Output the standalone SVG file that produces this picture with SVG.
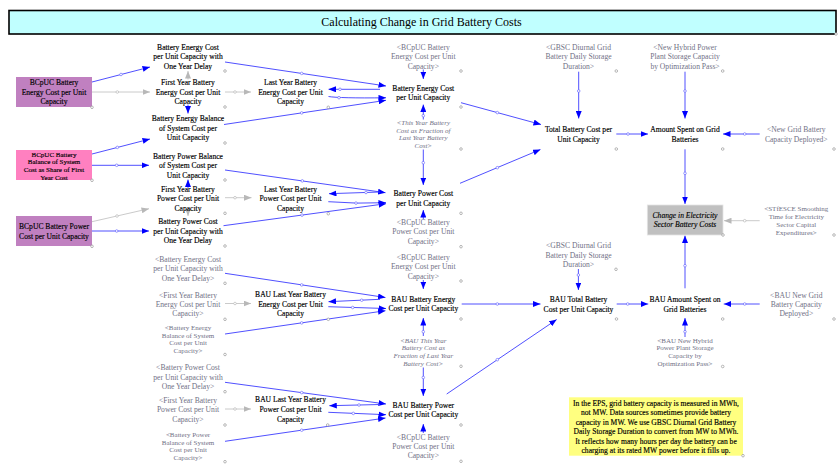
<svg xmlns="http://www.w3.org/2000/svg" width="838" height="469" viewBox="0 0 838 469">
<style>
text{font-family:"Liberation Serif","Times New Roman",serif;font-size:7.6px;text-anchor:middle}
.v{fill:#000;stroke:#000;stroke-width:0.15}
.g{fill:#707085}
.gi{fill:#707085;font-style:italic}
.vi{fill:#000;font-style:italic;stroke:#000;stroke-width:0.12}
.s{font-size:7px}
.bl{stroke:#3c3cff;stroke-width:0.9;fill:none}
.gr{stroke:#c4c4c4;stroke-width:0.9;fill:none}
.hb{fill:#fff;stroke:#5a5aff;stroke-width:0.6}
.hg{fill:#fff;stroke:#b0b0b0;stroke-width:0.6}
.c{fill:#fff;stroke:#8a8a8a;stroke-width:0.6}
</style>
<defs>
<marker id="ab" viewBox="0 0 10 8" refX="10" refY="4" markerWidth="7.5" markerHeight="6" markerUnits="userSpaceOnUse" orient="auto"><path d="M0,0 L10,4 L0,8 z" fill="#0000ff"/></marker>
<marker id="ag" viewBox="0 0 10 8" refX="10" refY="4" markerWidth="7.5" markerHeight="6" markerUnits="userSpaceOnUse" orient="auto"><path d="M0,0 L10,4 L0,8 z" fill="#b8b8b8"/></marker>
</defs>
<rect width="838" height="469" fill="#fff"/>

<g id="title">
<rect x="9" y="10.5" width="827" height="23.5" fill="#c0ffff" stroke="#000" stroke-width="1.6"/>
<text x="421.5" y="26.2" style="font-size:12px;fill:#000">Calculating Change in Grid Battery Costs</text>
<circle class="c" cx="836" cy="34" r="1.3"/>
</g>

<g id="connectors">
<path class="bl" d="M92,82 L150,67" marker-end="url(#ab)"/><circle class="hb" cx="121" cy="74.5" r="1.3"/>
<path class="gr" d="M92,92 L150,92" marker-end="url(#ag)"/><circle class="hg" cx="117.3" cy="92" r="1.3"/>
<path class="bl" d="M92,154 L150,139" marker-end="url(#ab)"/><circle class="hb" cx="117.3" cy="147.4" r="1.3"/>
<path class="bl" d="M92,165.3 L149,165.3" marker-end="url(#ab)"/><circle class="hb" cx="116.7" cy="165.3" r="1.3"/>
<path class="gr" d="M92,221.7 L149,208.7" marker-end="url(#ag)"/><circle class="hg" cx="117" cy="216" r="1.3"/>
<path class="bl" d="M92,231 L149,231" marker-end="url(#ab)"/><circle class="hb" cx="116.7" cy="231" r="1.3"/>
<path class="gr" d="M188,79.5 L188,71" marker-end="url(#ag)"/>
<path class="bl" d="M188,104.5 L188,113.5" marker-end="url(#ab)"/>
<path class="bl" d="M188,188 L188,179.5" marker-end="url(#ab)"/>
<path class="gr" d="M188,208.5 L188,216" marker-end="url(#ag)"/>
<path class="gr" d="M225,92 L251,92" marker-end="url(#ag)"/><circle class="hg" cx="235" cy="92" r="1.3"/>
<path class="gr" d="M225,197.7 L251.5,197.7" marker-end="url(#ag)"/><circle class="hg" cx="235" cy="197.7" r="1.3"/>
<path class="bl" d="M225,62 L386,86" marker-end="url(#ab)"/><circle class="hb" cx="301.7" cy="73.4" r="1.3"/>
<path class="bl" d="M380,89.3 L328.5,89.3" marker-end="url(#ab)"/><circle class="hb" cx="340" cy="89.3" r="1.3"/>
<path class="bl" d="M328.5,96.5 Q339,98.3 386,97.8" marker-end="url(#ab)"/><circle class="hb" cx="339" cy="97.7" r="1.3"/>
<path class="bl" d="M224,124.5 L386,100.3" marker-end="url(#ab)"/><circle class="hb" cx="301.7" cy="112.9" r="1.3"/>
<path class="bl" d="M423.3,69.5 L423.3,79" marker-end="url(#ab)"/>
<path class="bl" d="M423.3,119.5 L423.3,104.5" marker-end="url(#ab)"/><circle class="hb" cx="423.3" cy="115.7" r="1.3"/>
<path class="bl" d="M423.3,149.5 L423.3,185" marker-end="url(#ab)"/><circle class="hb" cx="423.3" cy="162.7" r="1.3"/>
<path class="bl" d="M461,102.7 L541,124.5" marker-end="url(#ab)"/><circle class="hb" cx="497.3" cy="112.6" r="1.3"/>
<path class="bl" d="M460,183.3 L540.5,149.5" marker-end="url(#ab)"/><circle class="hb" cx="497.3" cy="167.7" r="1.3"/>
<path class="bl" d="M225,170 L385.5,192.7" marker-end="url(#ab)"/><circle class="hb" cx="302.3" cy="180.9" r="1.3"/>
<path class="bl" d="M380,192 L329,193.7" marker-end="url(#ab)"/><circle class="hb" cx="366" cy="192.5" r="1.3"/>
<path class="bl" d="M328.3,201.7 Q356,204 386,202.7" marker-end="url(#ab)"/><circle class="hb" cx="356" cy="203.1" r="1.3"/>
<path class="bl" d="M223.5,225.7 L386,203.7" marker-end="url(#ab)"/><circle class="hb" cx="302" cy="215.1" r="1.3"/>
<path class="bl" d="M423.3,219.5 L423.3,210" marker-end="url(#ab)"/>
<path class="bl" d="M423.3,280 L423.3,289" marker-end="url(#ab)"/>
<path class="bl" d="M225,273.3 L385.5,297.5" marker-end="url(#ab)"/><circle class="hb" cx="301.7" cy="284.9" r="1.3"/>
<path class="bl" d="M380,299.3 L328.5,301.7" marker-end="url(#ab)"/><circle class="hb" cx="361.7" cy="300.2" r="1.3"/>
<path class="bl" d="M328.3,306.7 L386,308.5" marker-end="url(#ab)"/><circle class="hb" cx="352.7" cy="307.5" r="1.3"/>
<path class="gr" d="M225,303.5 L251,303.5" marker-end="url(#ag)"/><circle class="hg" cx="235" cy="303.5" r="1.3"/>
<path class="bl" d="M225,334 L385.5,310.7" marker-end="url(#ab)"/><circle class="hb" cx="301.7" cy="322.9" r="1.3"/>
<path class="bl" d="M423.3,336 L423.3,318" marker-end="url(#ab)"/><circle class="hb" cx="423.3" cy="331.7" r="1.3"/>
<path class="bl" d="M423.3,367.5 L423.3,396" marker-end="url(#ab)"/><circle class="hb" cx="423.3" cy="377.5" r="1.3"/>
<path class="bl" d="M461.7,304 L540.5,304" marker-end="url(#ab)"/><circle class="hb" cx="497.3" cy="304" r="1.3"/>
<path class="bl" d="M446.7,394 L556.7,319.5" marker-end="url(#ab)"/><circle class="hb" cx="497.3" cy="359.7" r="1.3"/>
<path class="bl" d="M225,382.3 L386,404" marker-end="url(#ab)"/><circle class="hb" cx="301.7" cy="392.6" r="1.3"/>
<path class="bl" d="M380,404.5 L329.3,405.7" marker-end="url(#ab)"/><circle class="hb" cx="359" cy="405" r="1.3"/>
<path class="bl" d="M328.3,412.3 L386,414.7" marker-end="url(#ab)"/><circle class="hb" cx="353.3" cy="413.4" r="1.3"/>
<path class="gr" d="M225,409 L251,409" marker-end="url(#ag)"/><circle class="hg" cx="235" cy="409" r="1.3"/>
<path class="bl" d="M225,441.3 L385.5,418" marker-end="url(#ab)"/><circle class="hb" cx="301.7" cy="430.2" r="1.3"/>
<path class="bl" d="M423.3,433 L423.3,424" marker-end="url(#ab)"/>
<path class="bl" d="M578.7,71.7 L578.7,118.5" marker-end="url(#ab)"/><circle class="hb" cx="578.7" cy="91" r="1.3"/>
<path class="bl" d="M616.3,134 L648,134" marker-end="url(#ab)"/><circle class="hb" cx="628" cy="134" r="1.3"/>
<path class="bl" d="M685,71.7 L685,118.5" marker-end="url(#ab)"/><circle class="hb" cx="685" cy="91" r="1.3"/>
<path class="bl" d="M759.7,134 L723,134" marker-end="url(#ab)"/><circle class="hb" cx="744.7" cy="134" r="1.3"/>
<path class="bl" d="M685,149.3 L685,204" marker-end="url(#ab)"/><circle class="hb" cx="685" cy="173.3" r="1.3"/>
<path class="gr" d="M759.7,220.7 L724,220.7" marker-end="url(#ag)"/><circle class="hg" cx="744.7" cy="220.7" r="1.3"/>
<path class="bl" d="M685,288.3 L685,235.5" marker-end="url(#ab)"/><circle class="hb" cx="685" cy="265.7" r="1.3"/>
<path class="bl" d="M578.4,269 L578.4,290" marker-end="url(#ab)"/><circle class="hb" cx="578.4" cy="275" r="1.3"/>
<path class="bl" d="M616.7,304 L648.3,304" marker-end="url(#ab)"/><circle class="hb" cx="627.7" cy="304" r="1.3"/>
<path class="bl" d="M759.7,304 L723.7,304" marker-end="url(#ab)"/><circle class="hb" cx="744.7" cy="304" r="1.3"/>
<path class="bl" d="M685,337 L685,318" marker-end="url(#ab)"/><circle class="hb" cx="685" cy="331.7" r="1.3"/>
</g>

<g id="bcpuc_energy">
<rect x="16" y="77" width="76" height="30" fill="#c080c0"/>
<text class="v"><tspan x="54" y="84.9">BCpUC Battery</tspan><tspan x="54" y="94.6">Energy Cost per Unit</tspan><tspan x="54" y="103.9">Capacity</tspan></text>
<circle class="c" cx="92" cy="107.3" r="1.3"/>
</g>
<g id="bcpuc_bos_share">
<rect x="16" y="150" width="76" height="30" fill="#ff80c0"/>
<text class="v s"><tspan x="54" y="156.6">BCpUC Battery</tspan><tspan x="54" y="164.3">Balance of System</tspan><tspan x="54" y="172.1">Cost as Share of First</tspan><tspan x="54" y="179.8">Year Cost</tspan></text>
<circle class="c" cx="92" cy="180.3" r="1.3"/>
</g>
<g id="bcpuc_power">
<rect x="16" y="216" width="76" height="30" fill="#c080c0"/>
<text class="v"><tspan x="54" y="229.3">BCpUC Battery Power</tspan><tspan x="54" y="238.6">Cost per Unit Capacity</tspan></text>
<circle class="c" cx="92" cy="246.3" r="1.3"/>
</g>

<g id="energy_delay">
<text class="v"><tspan x="188" y="49.6">Battery Energy Cost</tspan><tspan x="188" y="58.9">per Unit Capacity with</tspan><tspan x="188" y="68.6">One Year Delay</tspan></text>
<circle class="c" cx="225" cy="71" r="1.3"/>
</g>
<g id="first_energy">
<text class="v"><tspan x="188" y="84.9">First Year Battery</tspan><tspan x="188" y="94.6">Energy Cost per Unit</tspan><tspan x="188" y="103.9">Capacity</tspan></text>
<circle class="c" cx="225" cy="107" r="1.3"/>
</g>
<g id="energy_bos">
<text class="v"><tspan x="188" y="121.3">Battery Energy Balance</tspan><tspan x="188" y="130.6">of System Cost per</tspan><tspan x="188" y="139.9">Unit Capacity</tspan></text>
<circle class="c" cx="225" cy="143" r="1.3"/>
</g>
<g id="power_bos">
<text class="v"><tspan x="188" y="158.6">Battery Power Balance</tspan><tspan x="188" y="167.9">of System Cost per</tspan><tspan x="188" y="177.6">Unit Capacity</tspan></text>
<circle class="c" cx="225" cy="180" r="1.3"/>
</g>
<g id="first_power">
<text class="v"><tspan x="188" y="191.6">First Year Battery</tspan><tspan x="188" y="201.3">Power Cost per Unit</tspan><tspan x="188" y="210.6">Capacity</tspan></text>
<circle class="c" cx="225" cy="213.3" r="1.3"/>
</g>
<g id="power_delay">
<text class="v"><tspan x="188" y="223.9">Battery Power Cost</tspan><tspan x="188" y="233.6">per Unit Capacity with</tspan><tspan x="188" y="242.9">One Year Delay</tspan></text>
<circle class="c" cx="225" cy="246" r="1.3"/>
</g>
<g id="sh_energy_delay">
<text class="g"><tspan x="188" y="261.6">&lt;Battery Energy Cost</tspan><tspan x="188" y="271.3">per Unit Capacity with</tspan><tspan x="188" y="280.6">One Year Delay&gt;</tspan></text>
<circle class="c" cx="225" cy="283.3" r="1.3"/>
</g>
<g id="sh_first_energy">
<text class="g"><tspan x="188" y="297.6">&lt;First Year Battery</tspan><tspan x="188" y="306.9">Energy Cost per Unit</tspan><tspan x="188" y="316.3">Capacity&gt;</tspan></text>
<circle class="c" cx="225" cy="319.3" r="1.3"/>
</g>
<g id="sh_energy_bos">
<text class="g s"><tspan x="188" y="329.8">&lt;Battery Energy</tspan><tspan x="188" y="337.5">Balance of System</tspan><tspan x="188" y="345.3">Cost per Unit</tspan><tspan x="188" y="353">Capacity&gt;</tspan></text>
<circle class="c" cx="225" cy="354.5" r="1.3"/>
</g>
<g id="sh_power_delay">
<text class="g"><tspan x="188" y="369.9">&lt;Battery Power Cost</tspan><tspan x="188" y="379.6">per Unit Capacity with</tspan><tspan x="188" y="388.9">One Year Delay&gt;</tspan></text>
<circle class="c" cx="225" cy="391.7" r="1.3"/>
</g>
<g id="sh_first_power">
<text class="g"><tspan x="188" y="402.9">&lt;First Year Battery</tspan><tspan x="188" y="412.3">Power Cost per Unit</tspan><tspan x="188" y="421.9">Capacity&gt;</tspan></text>
<circle class="c" cx="225" cy="425" r="1.3"/>
</g>
<g id="sh_power_bos">
<text class="g s"><tspan x="188" y="436.8">&lt;Battery Power</tspan><tspan x="188" y="444.5">Balance of System</tspan><tspan x="188" y="452.3">Cost per Unit</tspan><tspan x="188" y="460">Capacity&gt;</tspan></text>
<circle class="c" cx="225" cy="461.7" r="1.3"/>
</g>

<g id="last_energy">
<text class="v"><tspan x="290.5" y="85.3">Last Year Battery</tspan><tspan x="290.5" y="94.9">Energy Cost per Unit</tspan><tspan x="290.5" y="104.3">Capacity</tspan></text>
<circle class="c" cx="328.3" cy="107.3" r="1.3"/>
</g>
<g id="last_power">
<text class="v"><tspan x="290.5" y="191.6">Last Year Battery</tspan><tspan x="290.5" y="201.3">Power Cost per Unit</tspan><tspan x="290.5" y="210.9">Capacity</tspan></text>
<circle class="c" cx="328.3" cy="213.7" r="1.3"/>
</g>
<g id="bau_last_energy">
<text class="v"><tspan x="290.5" y="296.9">BAU Last Year Battery</tspan><tspan x="290.5" y="306.9">Energy Cost per Unit</tspan><tspan x="290.5" y="316.3">Capacity</tspan></text>
<circle class="c" cx="328.3" cy="319.3" r="1.3"/>
</g>
<g id="bau_last_power">
<text class="v"><tspan x="290.5" y="402.3">BAU Last Year Battery</tspan><tspan x="290.5" y="411.6">Power Cost per Unit</tspan><tspan x="290.5" y="421.9">Capacity</tspan></text>
<circle class="c" cx="327.7" cy="425" r="1.3"/>
</g>

<g id="sh_bcpuc_energy_1">
<text class="g"><tspan x="423.3" y="49.6">&lt;BCpUC Battery</tspan><tspan x="423.3" y="58.9">Energy Cost per Unit</tspan><tspan x="423.3" y="68.6">Capacity&gt;</tspan></text>
<circle class="c" cx="461" cy="71" r="1.3"/>
</g>
<g id="energy_cost">
<text class="v"><tspan x="423.3" y="90.6">Battery Energy Cost</tspan><tspan x="423.3" y="99.9">per Unit Capacity</tspan></text>
<circle class="c" cx="461" cy="107" r="1.3"/>
</g>
<g id="sh_fraction">
<text class="gi s"><tspan x="423.3" y="124.8">&lt;This Year Battery</tspan><tspan x="423.3" y="132.5">Cost as Fraction of</tspan><tspan x="423.3" y="140.3">Last Year Battery</tspan><tspan x="423.3" y="148">Cost&gt;</tspan></text>
<circle class="c" cx="461" cy="149" r="1.3"/>
</g>
<g id="power_cost">
<text class="v"><tspan x="423.3" y="195.9">Battery Power Cost</tspan><tspan x="423.3" y="205.9">per Unit Capacity</tspan></text>
<circle class="c" cx="461" cy="213.3" r="1.3"/>
</g>
<g id="sh_bcpuc_power_1">
<text class="g"><tspan x="423.3" y="224.9">&lt;BCpUC Battery</tspan><tspan x="423.3" y="234.3">Power Cost per Unit</tspan><tspan x="423.3" y="243.6">Capacity&gt;</tspan></text>
<circle class="c" cx="461" cy="246.7" r="1.3"/>
</g>
<g id="sh_bcpuc_energy_2">
<text class="g"><tspan x="423.3" y="259.9">&lt;BCpUC Battery</tspan><tspan x="423.3" y="268.9">Energy Cost per Unit</tspan><tspan x="423.3" y="278.6">Capacity&gt;</tspan></text>
<circle class="c" cx="461" cy="281" r="1.3"/>
</g>
<g id="bau_energy_cost">
<text class="v"><tspan x="423.3" y="301.9">BAU Battery Energy</tspan><tspan x="423.3" y="310.9">Cost per Unit Capacity</tspan></text>
<circle class="c" cx="461" cy="319" r="1.3"/>
</g>
<g id="sh_bau_fraction">
<text class="gi s"><tspan x="423.3" y="342.6">&lt;BAU This Year</tspan><tspan x="423.3" y="350.3">Battery Cost as</tspan><tspan x="423.3" y="358.1">Fraction of Last Year</tspan><tspan x="423.3" y="365.8">Battery Cost&gt;</tspan></text>
<circle class="c" cx="461" cy="366.3" r="1.3"/>
</g>
<g id="bau_power_cost">
<text class="v"><tspan x="423.3" y="407.9">BAU Battery Power</tspan><tspan x="423.3" y="416.9">Cost per Unit Capacity</tspan></text>
<circle class="c" cx="461" cy="425" r="1.3"/>
</g>
<g id="sh_bcpuc_power_2">
<text class="g"><tspan x="423.3" y="439.6">&lt;BCpUC Battery</tspan><tspan x="423.3" y="448.9">Power Cost per Unit</tspan><tspan x="423.3" y="458.3">Capacity&gt;</tspan></text>
<circle class="c" cx="461" cy="461.3" r="1.3"/>
</g>

<g id="sh_gbsc_1">
<text class="g"><tspan x="578.5" y="49.6">&lt;GBSC Diurnal Grid</tspan><tspan x="578.5" y="58.9">Battery Daily Storage</tspan><tspan x="578.5" y="68.6">Duration&gt;</tspan></text>
<circle class="c" cx="616.3" cy="71" r="1.3"/>
</g>
<g id="total_cost">
<text class="v"><tspan x="578.5" y="131.9">Total Battery Cost per</tspan><tspan x="578.5" y="141.6">Unit Capacity</tspan></text>
<circle class="c" cx="616.3" cy="149" r="1.3"/>
</g>
<g id="sh_gbsc_2">
<text class="g"><tspan x="578.5" y="248.3">&lt;GBSC Diurnal Grid</tspan><tspan x="578.5" y="257.9">Battery Daily Storage</tspan><tspan x="578.5" y="266.9">Duration&gt;</tspan></text>
<circle class="c" cx="616" cy="269.3" r="1.3"/>
</g>
<g id="bau_total_cost">
<text class="v"><tspan x="578.5" y="301.9">BAU Total Battery</tspan><tspan x="578.5" y="311.6">Cost per Unit Capacity</tspan></text>
<circle class="c" cx="616.5" cy="319" r="1.3"/>
</g>

<g id="sh_new_hybrid">
<text class="g"><tspan x="685" y="49.6">&lt;New Hybrid Power</tspan><tspan x="685" y="58.9">Plant Storage Capacity</tspan><tspan x="685" y="68.6">by Optimization Pass&gt;</tspan></text>
<circle class="c" cx="722.7" cy="71" r="1.3"/>
</g>
<g id="amount_spent">
<text class="v"><tspan x="685" y="131.9">Amount Spent on Grid</tspan><tspan x="685" y="141.6">Batteries</tspan></text>
<circle class="c" cx="722.7" cy="149" r="1.3"/>
</g>
<g id="change_costs">
<rect x="647.3" y="205" width="75.7" height="30" fill="#c0c0c0" stroke="#e4e4e4" stroke-width="0.8"/>
<text class="vi"><tspan x="685" y="217.6">Change in Electricity</tspan><tspan x="685" y="227.3">Sector Battery Costs</tspan></text>
<circle class="c" cx="723" cy="235" r="1.3"/>
</g>
<g id="bau_amount_spent">
<text class="v"><tspan x="685" y="301.9">BAU Amount Spent on</tspan><tspan x="685" y="311.6">Grid Batteries</tspan></text>
<circle class="c" cx="722.7" cy="319" r="1.3"/>
</g>
<g id="sh_bau_hybrid">
<text class="g s"><tspan x="685" y="342.6">&lt;BAU New Hybrid</tspan><tspan x="685" y="350.3">Power Plant Storage</tspan><tspan x="685" y="358.1">Capacity by</tspan><tspan x="685" y="365.8">Optimization Pass&gt;</tspan></text>
<circle class="c" cx="722.7" cy="366.5" r="1.3"/>
</g>

<g id="sh_new_grid">
<text class="g"><tspan x="796.3" y="131.9">&lt;New Grid Battery</tspan><tspan x="796.3" y="141.6">Capacity Deployed&gt;</tspan></text>
<circle class="c" cx="834" cy="149" r="1.3"/>
</g>
<g id="sh_stfesce">
<text class="g s"><tspan x="796.3" y="211.3">&lt;STfESCE Smoothing</tspan><tspan x="796.3" y="219">Time for Electricity</tspan><tspan x="796.3" y="226.8">Sector Capital</tspan><tspan x="796.3" y="234.5">Expenditures&gt;</tspan></text>
<circle class="c" cx="834" cy="235" r="1.3"/>
</g>
<g id="sh_bau_new_grid">
<text class="g"><tspan x="796.3" y="297.6">&lt;BAU New Grid</tspan><tspan x="796.3" y="306.9">Battery Capacity</tspan><tspan x="796.3" y="316.3">Deployed&gt;</tspan></text>
<circle class="c" cx="834" cy="319" r="1.3"/>
</g>

<g id="note">
<rect x="569" y="397.3" width="174" height="58.4" fill="#ffff80"/>
<text class="v"><tspan x="656" y="405.9">In the EPS, grid battery capacity is measured in MWh,</tspan><tspan x="656" y="415.3">not MW. Data sources sometimes provide battery</tspan><tspan x="656" y="424.7">capacity in MW. We use GBSC Diurnal Grid Battery</tspan><tspan x="656" y="434.1">Daily Storage Duration to convert from MW to MWh.</tspan><tspan x="656" y="443.5">It reflects how many hours per day the battery can be</tspan><tspan x="656" y="452.9">charging at its rated MW power before it fills up.</tspan></text>
<circle class="c" cx="743" cy="455.7" r="1.3"/>
</g>
</svg>
